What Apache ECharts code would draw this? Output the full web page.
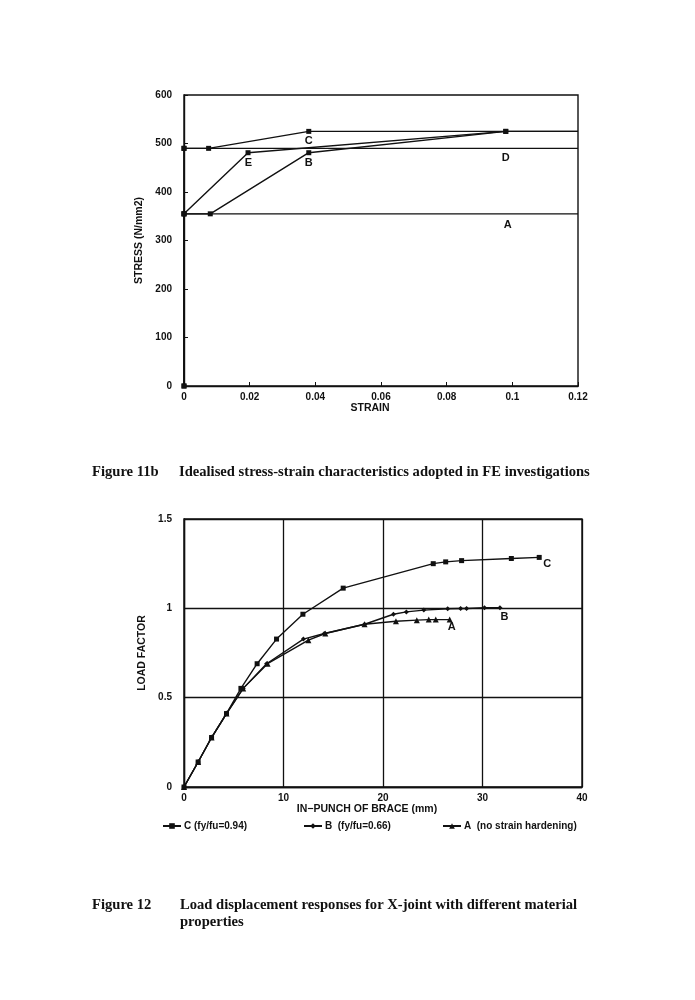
<!DOCTYPE html>
<html><head><meta charset="utf-8">
<script src="https://cdn.jsdelivr.net/npm/echarts@6/dist/echarts.min.js"></script>
<style>html,body{margin:0;padding:0;background:#fff}#c{width:695px;height:1000px}</style>
</head><body><div id="c"></div>
<script>
// ---- Figure 11b: idealised stress-strain curves (strain, stress N/mm2)
const curveA = [[0,0],[0,355],[0.12,355]];
const curveB = [[0,355],[0.008,355],[0.038,481],[0.098,525],[0.12,525]];
const curveE = [[0,355],[0.0195,481],[0.098,525]];
const curveC = [[0,0],[0,490],[0.0075,490],[0.038,525],[0.12,525]];
const curveD = [[0,490],[0.12,490]];
const stressLabels = [['C',0.038,506],['E',0.0196,460],['B',0.038,460],['D',0.098,471],['A',0.0986,332]];

// ---- Figure 12: load factor vs in-punch of brace (mm)
const punchC = [[0,0],[1.42,0.14],[2.77,0.277],[4.27,0.411],[5.72,0.552],[7.35,0.69],[9.3,0.828],[11.95,0.967],[16.0,1.113],[25.05,1.25],[26.3,1.26],[27.9,1.267],[32.9,1.279],[35.7,1.285]];
const punchB = [[0,0],[1.42,0.14],[2.77,0.277],[4.27,0.411],[5.95,0.552],[8.3,0.69],[12.0,0.828],[14.1,0.859],[18.15,0.911],[21.05,0.967],[22.35,0.98],[24.1,0.99],[26.5,0.998],[27.8,0.999],[28.4,0.999],[30.2,1.003],[31.75,1.003]];
const punchA = [[0,0],[1.42,0.14],[2.77,0.277],[4.27,0.411],[5.95,0.552],[8.4,0.69],[12.5,0.822],[14.2,0.859],[18.15,0.911],[21.3,0.928],[23.4,0.934],[24.6,0.937],[25.3,0.937],[26.7,0.937]];
const loadLabels = [['C',36.5,1.246],['B',32.2,0.952],['A',26.9,0.896]];
const legendNames = ['C (fy/fu=0.94)','B  (fy/fu=0.66)','A  (no strain hardening)'];

const FONT = 'Liberation Sans';
const INK = '#111';
const CAP = 'bold 14.6px "Liberation Serif"';
const axisText = {color: INK, fontFamily: FONT, fontWeight: 'bold', fontSize: 10};

function topSeries(name, pts) {
  return {
    type: 'line', name: name, xAxisIndex: 0, yAxisIndex: 0, silent: true, animation: false,
    data: pts.map(p => ({value: p, symbol: p[0] >= 0.12 ? 'none' : 'rect'})),
    symbolSize: 5, showAllSymbol: true,
    lineStyle: {color: INK, width: 1.4}, itemStyle: {color: INK}
  };
}

const chart = echarts.init(document.getElementById('c'), null, {renderer: 'canvas'});
const option = {
  backgroundColor: '#fff',
  animation: false,
  grid: [
    {left: 184, right: 117, top: 95, bottom: 614, show: true, borderColor: INK, borderWidth: 1.4},
    {left: 184, right: 113, top: 519, bottom: 213, show: true, borderColor: INK, borderWidth: 1.4}
  ],
  xAxis: [
    {gridIndex: 0, type: 'value', min: 0, max: 0.12, interval: 0.02,
     name: 'STRAIN', nameLocation: 'middle', nameGap: 17,
     nameTextStyle: Object.assign({}, axisText, {fontSize: 10.5, padding: [0, 22, 0, 0]}),
     axisLine: {lineStyle: {color: INK, width: 1.4}},
     axisTick: {inside: true, length: 4, lineStyle: {color: INK}},
     axisLabel: Object.assign({margin: 6}, axisText),
     splitLine: {show: false}},
    {gridIndex: 1, type: 'value', min: 0, max: 40, interval: 10,
     name: 'IN\u2212PUNCH OF BRACE (mm)', nameLocation: 'middle', nameGap: 17,
     nameTextStyle: Object.assign({}, axisText, {fontSize: 10.5, padding: [0, 32, 0, 0]}),
     axisLine: {lineStyle: {color: INK, width: 1.4}},
     axisTick: {show: false},
     axisLabel: Object.assign({margin: 6}, axisText),
     splitLine: {show: true, lineStyle: {color: INK, width: 1.3}}}
  ],
  yAxis: [
    {gridIndex: 0, type: 'value', min: 0, max: 600, interval: 100,
     name: 'STRESS (N/mm2)', nameLocation: 'middle', nameGap: 30, nameRotate: 90,
     nameTextStyle: Object.assign({}, axisText, {fontSize: 10.5}),
     axisLine: {lineStyle: {color: INK, width: 1.4}},
     axisTick: {inside: true, length: 4, lineStyle: {color: INK}},
     axisLabel: Object.assign({margin: 12}, axisText),
     splitLine: {show: false}},
    {gridIndex: 1, type: 'value', min: 0, max: 1.5, interval: 0.5,
     name: 'LOAD FACTOR', nameLocation: 'middle', nameGap: 26, nameRotate: 90,
     nameTextStyle: Object.assign({}, axisText, {fontSize: 10.5}),
     axisLine: {lineStyle: {color: INK, width: 1.4}},
     axisTick: {show: false},
     axisLabel: Object.assign({margin: 12}, axisText),
     splitLine: {show: true, lineStyle: {color: INK, width: 1.3}}}
  ],
  legend: legendNames.map((n, i) => ({
    data: [n], left: [162, 303, 442][i], top: 821, padding: 0, itemWidth: 18, itemHeight: 7, itemGap: 4,
    selectedMode: false, textStyle: Object.assign({}, axisText, {padding: [0, 0, 0, -2]})
  })),
  series: [
    topSeries('A', curveA),
    topSeries('B', curveB),
    topSeries('E', curveE),
    topSeries('C', curveC),
    Object.assign(topSeries('D', curveD), {
      markPoint: {
        symbol: 'circle', symbolSize: 0, silent: true,
        label: {show: true, position: 'inside', color: INK, fontFamily: FONT, fontWeight: 'bold', fontSize: 11},
        data: stressLabels.map(l => ({coord: [l[1], l[2]], label: {formatter: l[0]}}))
      }
    }),
    {type: 'line', name: legendNames[0], xAxisIndex: 1, yAxisIndex: 1, data: punchC,
     symbol: 'rect', symbolSize: 5, showAllSymbol: true,
     lineStyle: {color: INK, width: 1.4}, itemStyle: {color: INK},
     markPoint: {
       symbol: 'circle', symbolSize: 0, silent: true,
       label: {show: true, position: 'inside', color: INK, fontFamily: FONT, fontWeight: 'bold', fontSize: 11},
       data: loadLabels.map(l => ({coord: [l[1], l[2]], label: {formatter: l[0]}}))
     }},
    {type: 'line', name: legendNames[1], xAxisIndex: 1, yAxisIndex: 1, data: punchB,
     symbol: 'diamond', symbolSize: 5, showAllSymbol: true,
     lineStyle: {color: INK, width: 1.4}, itemStyle: {color: INK}},
    {type: 'line', name: legendNames[2], xAxisIndex: 1, yAxisIndex: 1, data: punchA,
     symbol: 'triangle', symbolSize: 6, showAllSymbol: true,
     lineStyle: {color: INK, width: 1.4}, itemStyle: {color: INK}}
  ],
  graphic: [
    {type: 'text', x: 92, y: 472, style: {text: 'Figure 11b', font: CAP, fill: INK, verticalAlign: 'middle'}},
    {type: 'text', x: 179, y: 472, style: {text: 'Idealised stress-strain characteristics adopted in FE investigations', font: CAP, fill: INK, verticalAlign: 'middle'}},
    {type: 'text', x: 92, y: 905, style: {text: 'Figure 12', font: CAP, fill: INK, verticalAlign: 'middle'}},
    {type: 'text', x: 180, y: 905, style: {text: 'Load displacement responses for X-joint with different material', font: CAP, fill: INK, verticalAlign: 'middle'}},
    {type: 'text', x: 180, y: 922, style: {text: 'properties', font: CAP, fill: INK, verticalAlign: 'middle'}}
  ]
};
chart.setOption(option);
</script>
</body></html>
